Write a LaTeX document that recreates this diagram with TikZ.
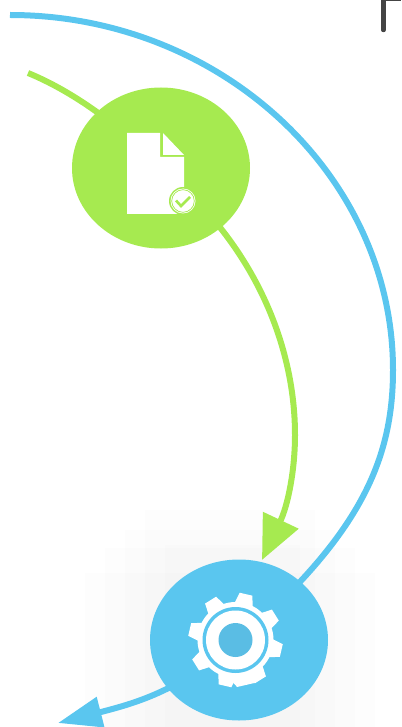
\documentclass[tikz,border=0pt]{standalone}
\usetikzlibrary{arrows.meta}
\definecolor{lime}{HTML}{A6EA50}
\definecolor{sky}{HTML}{5AC6EF}
\definecolor{skyhole}{HTML}{5ABDE4}
\definecolor{ink}{HTML}{444444}
\tikzset{
  x=1pt,y=-1pt,
  flow/.style={line width=6pt},
  greenflow/.style={flow,draw=lime},
  blueflow/.style={flow,draw=sky},
  bubble/.style={ellipse,minimum width=178pt,minimum height=161pt,inner sep=0pt,draw=none},
  halo/.style={fill=black,fill opacity=0.006,draw=none},
}
\usetikzlibrary{shapes.geometric}
\begin{document}
\begin{tikzpicture}
\useasboundingbox (0,0) rectangle (401,727);
% soft shadow behind the blue node
\fill[halo] (85,573) rectangle (375,727);
\fill[halo] (105,548) rectangle (355,727);
\fill[halo] (125,530) rectangle (335,727);
\fill[halo] (145,510) rectangle (315,727);
\fill[halo] (165,545) rectangle (300,727);
% nodes (named first, painted over connectors below)
\coordinate (gs) at (28,73);
\coordinate (gc) at (161,168);
\coordinate (gm) at (295,435);
\coordinate (gt) at (262,560);
\coordinate (bs) at (10,15);
\coordinate (bm) at (393,370);
\coordinate (bc) at (239,640);
\coordinate (bt) at (58,723);
% connectors
\draw[greenflow] (gs) .. controls (72,91) and (120,125) .. (gc);
\draw[greenflow,-{Triangle[length=44pt,width=38pt]}] (gc) .. controls (250,240) and (295,340) .. (gm) .. controls (295,470) and (288,505) .. (gt);
\draw[blueflow] (bs) .. controls (220,15) and (393,175) .. (bm) .. controls (393,460) and (360,535) .. (bc);
\draw[blueflow,-{Triangle[length=44pt,width=30pt]}] (bc) .. controls (180,690) and (140,702) .. (bt);
% green node
\node[bubble,fill=lime] (gn) at (gc) {};
\fill[white] (127,133) -- (160,133) -- (160,157) -- (184,157) -- (184,214) -- (127,214) -- cycle;
\fill[white] (163,133) -- (184,155) -- (163,155) -- cycle;
\fill[lime] (183,201) circle (14);
\fill[white] (183,201) circle (12.5);
\draw[lime,line width=0.7pt] (183,201) circle (11.3);
\draw[lime,line width=2.6pt] (176,200.5) -- (181,206) -- (190,197);
% blue node
\node[bubble,fill=sky] (bn) at (bc) {};
\fill[white,even odd rule]
  \foreach \a in {77,32,-13,-58,-103,-148,167,122} {
    (235.5,640) ++(\a-21:38) -- ++(0,0)
  } (235.5,640) circle (1);
\begin{scope}[shift={(235.5,640)}]
  \fill[white]
    (77-24:38) -- (77-11:47) -- (77+11:47) -- (77+24:38)
    arc[start angle=77+24,end angle=32+360-24-360+45+45,radius=38] -- cycle;
  \foreach \a in {77,32,-13,-58,-103,-148,167,122} {
    \fill[white,rotate=\a] (-9,-37) -- (-6.5,-47) -- (6.5,-47) -- (9,-37) -- (9,-30) -- (-9,-30) -- cycle;
  }
  \fill[white] (0,0) circle (38);
  \fill[sky] (0,0) circle (33);
  \fill[white] (0,0) circle (29.5);
  \fill[skyhole] (0,0) circle (17);
\end{scope}
% corner mark
\draw[ink,line width=4.5pt,line cap=round] (383.5,30) -- (383.5,0);
\draw[ink,line width=2pt] (383,0) -- (401,0);
\end{tikzpicture}
\end{document}
